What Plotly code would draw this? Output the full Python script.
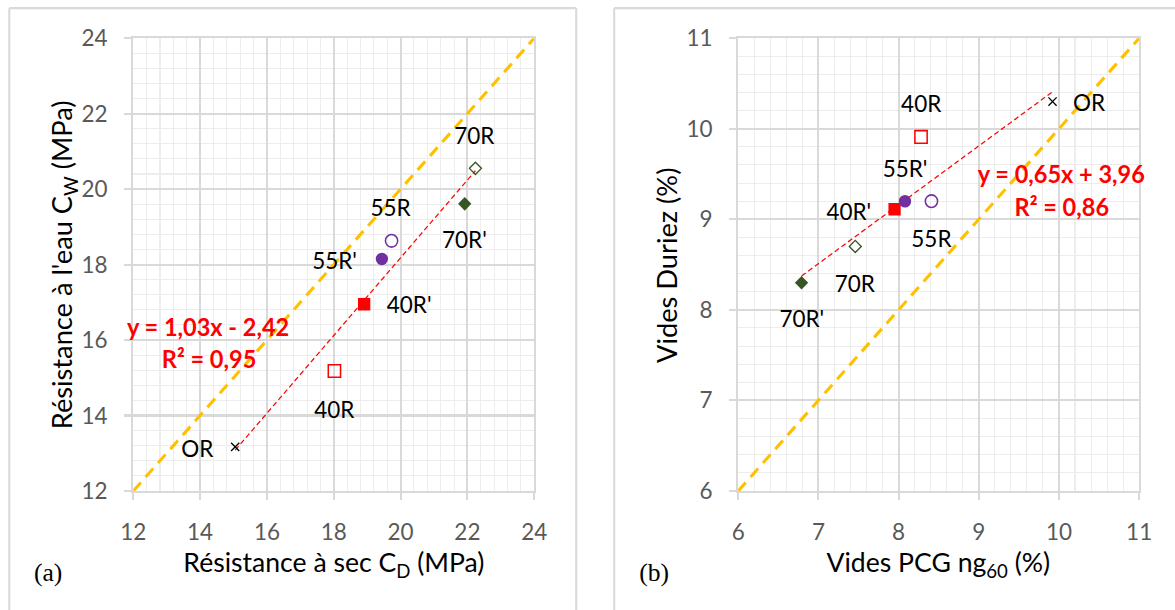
import plotly.graph_objects as go

# ---------------- data ----------------
names = ["OR", "40R", "40R'", "55R'", "55R", "70R'", "70R"]
# panel (a)
cd_dry = [15.05, 18.02, 18.91, 19.44, 19.73, 21.92, 22.24]
cw_wet = [13.17, 15.18, 16.95, 18.15, 18.63, 19.61, 20.55]
# panel (b)
pcg_ng60 = [9.92, 8.28, 7.95, 8.08, 8.41, 6.79, 7.46]
duriez = [10.30, 9.91, 9.11, 9.20, 9.20, 8.30, 8.70]

trend_a = [1.03, -2.42]   # slope, intercept
trend_b = [0.65, 3.96]
r2_a = "0,95"
r2_b = "0,86"

range_a = [12, 24]
range_b = [6, 11]

# ---------------- styles ----------------
marker_styles = {
    "OR":   dict(symbol="x-thin", size=8, color="black", line=dict(color="black", width=1.3)),
    "40R":  dict(symbol="square-open", size=12, color="#FF0000", line=dict(color="#FF0000", width=1.5)),
    "40R'": dict(symbol="square", size=12, color="#FF0000", line=dict(width=0)),
    "55R'": dict(symbol="circle", size=12, color="#7030A0", line=dict(width=0)),
    "55R":  dict(symbol="circle-open", size=12, color="#7030A0", line=dict(color="#7030A0", width=1.5)),
    "70R'": dict(symbol="diamond", size=10, color="#375623", line=dict(width=0)),
    "70R":  dict(symbol="diamond-open", size=9, color="#375623", line=dict(color="#375623", width=1.3)),
}
# label offsets in pixels (dx right, dy up)
label_shift_a = {"OR": (-37, -1), "40R": (0, -36), "40R'": (44, 0), "55R'": (-46, -1),
                 "55R": (-1, 32), "70R'": (0, -34), "70R": (-1, 32)}
label_shift_b = {"OR": (36, -1), "40R": (0, 32), "55R'": (0, 32), "40R'": (-45, -2),
                 "55R": (0, -35), "70R": (0, -35), "70R'": (0, -34)}

W, H = 1175, 610
FONT = "Lato"
GRID = "#D9D9D9"
MINOR = "#EDEDED"

fig = go.Figure()

def add_panel(xs, ys, rng, trend, xa, ya):
    fig.add_trace(go.Scatter(x=rng, y=rng, mode="lines", xaxis=xa, yaxis=ya,
                             line=dict(color="#FFC000", width=3, dash="11px,7px"),
                             showlegend=False, hoverinfo="skip"))
    x0, x1 = min(xs), max(xs)
    fig.add_trace(go.Scatter(x=[x0, x1], y=[trend[0] * x0 + trend[1], trend[0] * x1 + trend[1]],
                             mode="lines", xaxis=xa, yaxis=ya,
                             line=dict(color="#FF0000", width=1.2, dash="5px,3px"),
                             showlegend=False, hoverinfo="skip"))
    for n, x, y in zip(names, xs, ys):
        fig.add_trace(go.Scatter(x=[x], y=[y], mode="markers", xaxis=xa, yaxis=ya,
                                 marker=marker_styles[n], name=n, showlegend=False))

add_panel(cd_dry, cw_wet, range_a, trend_a, "x", "y")
add_panel(pcg_ng60, duriez, range_b, trend_b, "x2", "y2")

annotations = []
for n, x, y in zip(names, cd_dry, cw_wet):
    dx, dy = label_shift_a[n]
    annotations.append(dict(x=x, y=y, xref="x", yref="y", text=n, showarrow=False,
                            xshift=dx, yshift=dy, font=dict(family=FONT, size=22, color="black")))
for n, x, y in zip(names, pcg_ng60, duriez):
    dx, dy = label_shift_b[n]
    annotations.append(dict(x=x, y=y, xref="x2", yref="y2", text=n, showarrow=False,
                            xshift=dx, yshift=dy, font=dict(family=FONT, size=22, color="black")))

def fmt(v):
    return f"{abs(v):.2f}".replace(".", ",")

eq_font = dict(family=FONT, size=23, color="#FF0000")
def eq_text(t):
    sign = "+" if t[1] >= 0 else "-"
    return f"<b>y = {fmt(t[0])}x {sign} {fmt(t[1])}</b>"

def px(xp, yp):
    return xp / W, 1 - yp / H

for (cx, cy1, cy2, t, r2) in [(207.5, 326, 358, trend_a, r2_a), (1060, 174, 206, trend_b, r2_b)]:
    x, y = px(cx, cy1)
    annotations.append(dict(x=x, y=y, xref="paper", yref="paper", text=eq_text(t),
                            showarrow=False, font=eq_font, xanchor="center", yanchor="middle"))
    x, y = px(cx, cy2)
    annotations.append(dict(x=x, y=y, xref="paper", yref="paper", text=f"<b>R² = {r2}</b>",
                            showarrow=False, font=eq_font, xanchor="center", yanchor="middle"))

title_font = dict(family=FONT, size=26, color="black")
for (cx, cy, txt, ang) in [
    (62, 265, "Résistance à l'eau C<sub>W</sub> (MPa)", -90),
    (332, 562, "Résistance à sec C<sub>D</sub> (MPa)", 0),
    (666, 265, "Vides Duriez (%)", -90),
    (937, 562, "Vides PCG ng<sub>60</sub> (%)", 0),
]:
    x, y = px(cx, cy)
    annotations.append(dict(x=x, y=y, xref="paper", yref="paper", text=txt, textangle=ang,
                            showarrow=False, font=title_font, xanchor="center", yanchor="middle"))

for (cx, cy, txt) in [(47, 572, "(a)"), (653, 572, "(b)")]:
    x, y = px(cx, cy)
    annotations.append(dict(x=x, y=y, xref="paper", yref="paper", text=txt, showarrow=False,
                            font=dict(family="Liberation Serif", size=25, color="black"),
                            xanchor="center", yanchor="middle"))

# panel frames
shapes = []
for (x0, x1) in [(8, 575), (613, 1200)]:
    shapes.append(dict(type="line", xref="paper", yref="paper", x0=x0 / W, x1=x0 / W,
                       y0=1 - 8 / H, y1=-0.05, line=dict(color="#D9D9D9", width=2)))
    shapes.append(dict(type="line", xref="paper", yref="paper", x0=x0 / W, x1=x1 / W,
                       y0=1 - 8 / H, y1=1 - 8 / H, line=dict(color="#D9D9D9", width=2)))
    shapes.append(dict(type="line", xref="paper", yref="paper", x0=x1 / W, x1=x1 / W,
                       y0=1 - 8 / H, y1=-0.05, line=dict(color="#D9D9D9", width=2)))

def axis(rng, dtick, minor, domain, anchor):
    return dict(range=rng, dtick=dtick, tick0=rng[0], domain=domain, anchor=anchor,
                showgrid=True, gridcolor=GRID, gridwidth=1.5,
                minor=dict(dtick=minor, tick0=rng[0], showgrid=True, gridcolor=MINOR, gridwidth=1),
                showline=True, linecolor=GRID, linewidth=1.5, mirror=True,
                ticks="outside", ticklen=7, tickcolor=GRID, tickwidth=1.5,
                ticklabelstandoff=12,
                tickfont=dict(family=FONT, size=22, color="#595959"),
                zeroline=False, fixedrange=True)

ydom = [1 - 490.5 / H, 1 - 38 / H]
fig.update_layout(
    width=W, height=H,
    margin=dict(l=0, r=0, t=0, b=0),
    paper_bgcolor="white", plot_bgcolor="white",
    xaxis=axis(range_a, 2, 0.4, [132 / W, 533 / W], "y"),
    yaxis=axis(range_a, 2, 0.4, ydom, "x"),
    xaxis2=axis(range_b, 1, 0.2, [737 / W, 1138 / W], "y2"),
    yaxis2=axis(range_b, 1, 0.2, ydom, "x2"),
    annotations=annotations,
    shapes=shapes,
)

post = (
    "document.body.style.margin='0';"
    "document.body.style.overflow='hidden';"
    "var d=document.querySelector('.plotly-graph-div');"
    "d.style.transformOrigin='0 0';"
    "d.style.transform='translate(-12px,-14.5px) scale(1.0225,1.047)';"
)
fig.write_html("out.html", config={"displayModeBar": False}, post_script=post)
